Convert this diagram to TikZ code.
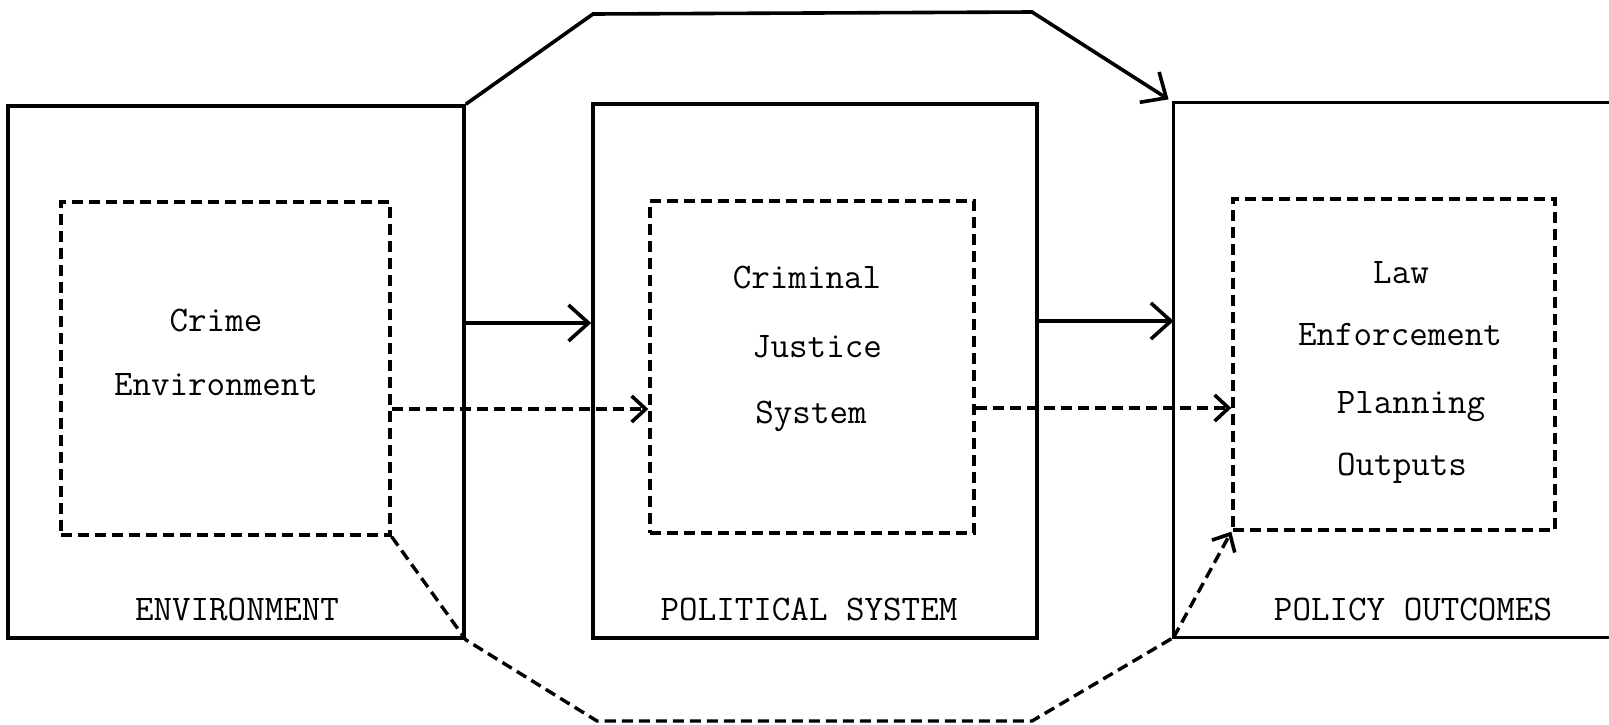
\documentclass[tikz,border=0pt]{standalone}
\usepackage{fontspec}
\usetikzlibrary{arrows.meta}
\begin{document}
\begin{tikzpicture}[x=0.5pt,y=-0.5pt,
  outerbox/.style={draw, line width=1.8pt, inner sep=0pt, rectangle},
  openbox/.style={inner sep=0pt, rectangle},
  innerbox/.style={draw, line width=1.7pt, dash pattern=on 5.5pt off 3pt, inner sep=0pt, rectangle},
  txt/.style={font=\ttfamily\fontsize{18}{20}\selectfont, anchor=base, inner sep=0pt},
  frame/.style={line width=1.8pt},
  dframe/.style={line width=1.7pt, dash pattern=on 5.5pt off 3pt},
  arr/.style={line width=1.8pt, -{Straight Barb[length=10pt,width=18pt,line width=1.8pt]}},
  darr/.style={line width=1.7pt, dash pattern=on 5.5pt off 3pt, -{Straight Barb[length=7pt,width=13pt,line width=1.8pt]}}
]
\useasboundingbox (0,0) rectangle (1609,724);

% outer boxes
\node[outerbox, minimum width=228pt, minimum height=266pt] (env) at (236,372) {};
\node[outerbox, minimum width=222pt, minimum height=267pt] (pol) at (815,371) {};
\node[openbox, minimum width=217.5pt, minimum height=267pt] (out) at (1391.5,370) {};
\draw[frame] (out.north east) -- (out.north west) -- (out.south west) -- (out.south east);

% inner dashed boxes
\node[innerbox, minimum width=164.5pt, minimum height=166.5pt] (ce) at (225.5,368.5) {};
\node[innerbox, minimum width=162pt, minimum height=166pt] (cjs) at (812,367) {};
\node[innerbox, minimum width=161pt, minimum height=165.5pt] (lep) at (1394,364.5) {};

% texts
\node[txt] (t1) at (216,331) {Crime};
\node[txt] (t2) at (216,395) {Environment};
\node[txt] (t3) at (807,288) {Criminal};
\node[txt] (t4) at (817,357) {Justice};
\node[txt] (t5) at (811,423) {System};
\node[txt] (t6) at (1401,283) {Law};
\node[txt] (t7) at (1400,345) {Enforcement};
\node[txt] (t8) at (1411,413) {Planning};
\node[txt] (t9) at (1402,475) {Outputs};
\node[txt] (l1) at (237,620) {ENVIRONMENT};
\node[txt] (l2) at (809,620) {POLITICAL SYSTEM};
\node[txt] (l3) at (1413,620) {POLICY OUTCOMES};

% octagon vertices
\coordinate (tl) at (593,14);
\coordinate (tr) at (1032,12);
\coordinate (bl) at (597,721);
\coordinate (br) at (1032,721);

% connectors
\draw[arr] (env.east |- 0,323) -- (pol.west |- 0,323);
\draw[arr] (pol.east |- 0,321) -- (out.west |- 0,321);
\draw[darr] (ce.east |- 0,409) -- (cjs.west |- 0,409);
\draw[darr] (cjs.east |- 0,408) -- (lep.west |- 0,408);
\draw[arr, shorten >=3pt] (env.north east) -- (tl) -- (tr) -- (out.north west);
\draw[dframe] (ce.south east) -- (env.south east) -- (bl) -- (br) -- (out.south west);
\draw[darr] (out.south west) -- (lep.south west);
\end{tikzpicture}
\end{document}
